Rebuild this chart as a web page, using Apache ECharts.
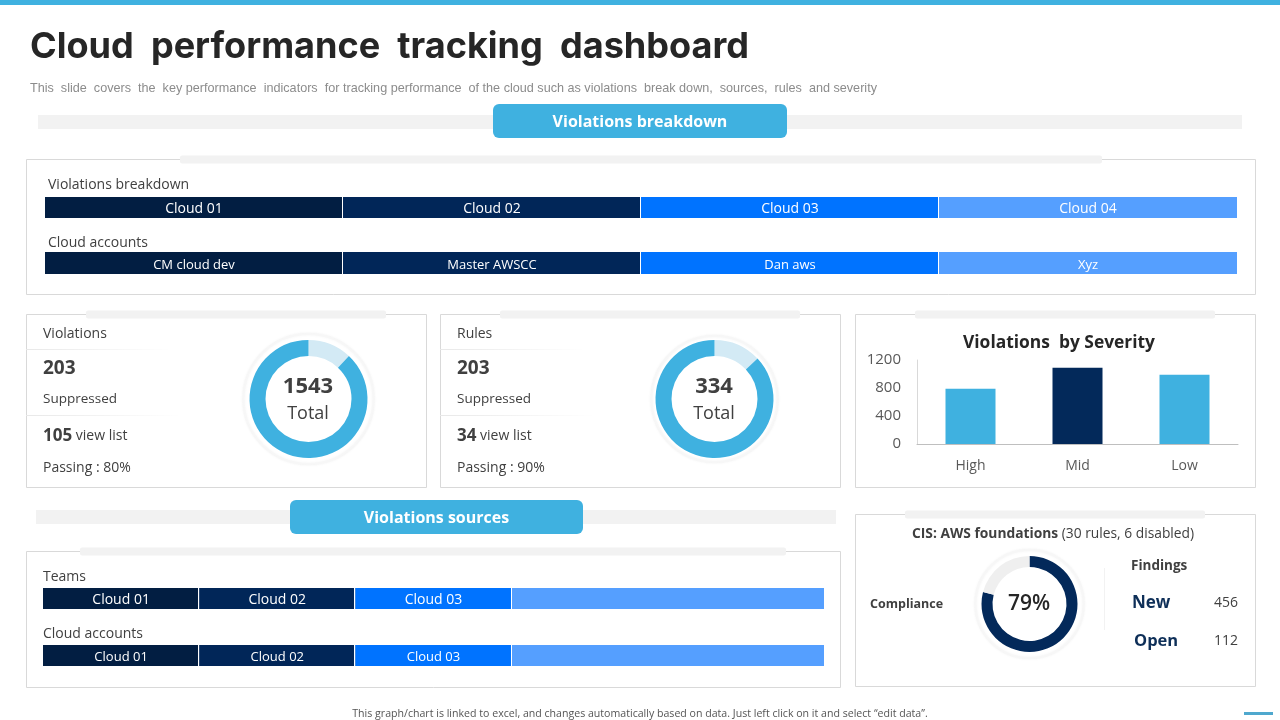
<!DOCTYPE html>
<html>
<head>
<meta charset="utf-8">
<title>Cloud performance tracking dashboard</title>
<script src="https://cdn.jsdelivr.net/npm/echarts@6/dist/echarts.min.js"></script>
<style>
  html, body { margin: 0; padding: 0; background: #fff; }
  #chart { width: 1280px; height: 720px; }
</style>
</head>
<body>
<div id="chart"></div>
<script>
// segment bars
const breakdownNames = ['Cloud 01', 'Cloud 02', 'Cloud 03', 'Cloud 04'];
const breakdownValues = [1, 1, 1, 1];
const accountNames = ['CM cloud dev', 'Master AWSCC', 'Dan aws', 'Xyz'];
const accountValues = [1, 1, 1, 1];
const teamNames = ['Cloud 01', 'Cloud 02', 'Cloud 03', ''];
const teamValues = [1, 1, 1, 2];
const sourceAccountNames = ['Cloud 01', 'Cloud 02', 'Cloud 03', ''];
const sourceAccountValues = [1, 1, 1, 2];

// donuts (share of the ring)
const violationsRing = [12, 88];
const rulesRing = [13, 87];
const complianceRing = [79, 21];

// severity bars
const severityNames = ['High', 'Mid', 'Low'];
const severityValues = [790, 1090, 990];
const severityTicks = { min: 0, max: 1200, interval: 400 };

const FONT = '"Open Sans"';
const SKY = '#3FB1E0';
const NAVY = '#03295A';
const STRIP = '#F2F2F2';
const FRAME = '#D9D9D9';
const segColors = ['#021E42', '#012658', '#0073FF', '#559FFF'];

const chart = echarts.init(document.getElementById('chart'), null, { renderer: 'canvas' });

const grids = [];
const xAxes = [];
const yAxes = [];
const series = [];
const graphics = [];

function addSegmentRow(names, values, left, top, width, height, fontSize, labelShift) {
    const idx = grids.length;
    grids.push({ left: left, top: top, width: width, height: height });
    xAxes.push({ gridIndex: idx, type: 'value', min: 0, max: values.reduce((a, b) => a + b, 0), show: false });
    yAxes.push({ gridIndex: idx, type: 'category', data: ['row'], show: false });
    values.forEach(function (v, i) {
        series.push({
            type: 'bar',
            stack: 'row' + idx,
            xAxisIndex: idx,
            yAxisIndex: idx,
            barWidth: '100%',
            silent: true,
            data: [v],
            itemStyle: { color: segColors[i], borderColor: '#fff', borderWidth: 0 },
            label: {
                show: names[i] !== '',
                position: 'inside',
                offset: [0, labelShift],
                formatter: names[i],
                color: '#fff',
                fontFamily: FONT,
                fontSize: fontSize
            }
        });
    });
}

function addDonut(data, cx, cy, inner, outer, colors) {
    series.push({
        type: 'pie',
        center: [cx, cy],
        radius: [inner, outer],
        startAngle: 90,
        clockwise: true,
        silent: true,
        label: { show: false },
        labelLine: { show: false },
        data: data.map(function (v, i) {
            return { value: v, itemStyle: { color: colors[i] } };
        })
    });
}

function text(x, y, str, size, opts) {
    opts = opts || {};
    graphics.push({
        type: 'text',
        x: x,
        y: y + 1,
        z: 20,
        silent: true,
        style: {
            text: str,
            fill: opts.color || '#404040',
            font: (opts.weight || 'normal') + ' ' + size + 'px ' + (opts.family || FONT),
            align: opts.align || 'left',
            verticalAlign: 'middle',
            rich: opts.rich
        }
    });
}

function rect(x, y, w, h, fill, r) {
    graphics.push({
        type: 'rect',
        z: 1,
        silent: true,
        shape: { x: x, y: y, width: w, height: h, r: r || 0 },
        style: { fill: fill }
    });
}

function frame(x, y, w, h, stripX, stripW) {
    graphics.push({
        type: 'rect',
        z: 1,
        silent: true,
        shape: { x: x, y: y, width: w, height: h },
        style: { fill: 'transparent', stroke: FRAME, lineWidth: 1 }
    });
    rect(stripX, y - 4, stripW, 8, STRIP, 2);
}

function header(stripX, stripW, stripY, pillX, pillW, pillY, label) {
    rect(stripX, stripY, stripW, 14, STRIP);
    rect(pillX, pillY, pillW, 34, SKY, 6);
    text(pillX + pillW / 2, pillY + 17, label, 16, { color: '#fff', weight: 'bold', align: 'center' });
}

function fadeLine(x, y, w) {
    graphics.push({
        type: 'rect',
        z: 2,
        silent: true,
        shape: { x: x, y: y, width: w, height: 1 },
        style: {
            fill: new echarts.graphic.LinearGradient(0, 0, 1, 0, [
                { offset: 0, color: '#E8E8E8' },
                { offset: 1, color: '#FFFFFF' }
            ])
        }
    });
}

function halo(cx, cy, r) {
    graphics.push({
        type: 'circle',
        z: 1,
        silent: true,
        shape: { cx: cx, cy: cy, r: r },
        style: { fill: '#fff', stroke: '#F7F7F7', lineWidth: 2, shadowBlur: 3, shadowColor: 'rgba(0,0,0,0.05)' }
    });
}

function statCard(x, title, main, passed, passing) {
    text(x + 17, 333, title, 14);
    fadeLine(x, 349, 145);
    text(x + 17, 368, main, 19, { weight: 'bold' });
    text(x + 17, 398, 'Suppressed', 13.5);
    fadeLine(x, 415, 155);
    text(x + 17, 435, '{b|' + passed + '} view list', 14, {
        rich: { b: { font: 'bold 17px ' + FONT, fill: '#404040' } }
    });
    text(x + 17, 467, 'Passing : ' + passing, 14);
}

// page chrome
rect(0, 0, 1280, 5, SKY);
text(30, 46, 'Cloud  performance  tracking  dashboard', 36.1, { color: '#262626', weight: 'bold', family: 'Inter' });
text(30, 88, 'This  slide  covers  the  key performance  indicators  for tracking performance  of the cloud such as violations  break down,  sources,  rules  and severity', 12.63, { color: '#8C8C8C', family: '"Liberation Sans"' });
header(38, 1204, 115, 493, 294, 104, 'Violations breakdown');
header(36, 800, 510, 290, 293, 500, 'Violations sources');

// panels
frame(26.5, 159.5, 1229, 135, 180, 922);
frame(26.5, 314.5, 400, 173, 86, 300);
frame(440.5, 314.5, 400, 173, 500, 300);
frame(855.5, 314.5, 400, 173, 915, 300);
frame(855.5, 514.5, 400, 172, 905, 300);
frame(26.5, 551.5, 814, 136, 80, 706);

// segment rows
text(48, 184, 'Violations breakdown', 14);
text(48, 242, 'Cloud accounts', 14);
addSegmentRow(breakdownNames, breakdownValues, 45, 197, 1192, 21, 14, 1.5);
addSegmentRow(accountNames, accountValues, 45, 252, 1192, 22, 13, 2.5);
text(43, 576, 'Teams', 14);
text(43, 633, 'Cloud accounts', 14);
addSegmentRow(teamNames, teamValues, 43, 588, 781, 21, 14, 1.5);
addSegmentRow(sourceAccountNames, sourceAccountValues, 43, 645, 781, 21, 13, 1.5);

// white seams between the segments
[342.5, 640.5, 938.5].forEach(function (x) {
    graphics.push({ type: 'line', z: 60, zlevel: 1, silent: true, shape: { x1: x, y1: 197, x2: x, y2: 274 }, style: { stroke: '#fff', lineWidth: 1 } });
});
[198.5, 354.5, 511.5].forEach(function (x) {
    graphics.push({ type: 'line', z: 60, zlevel: 1, silent: true, shape: { x1: x, y1: 588, x2: x, y2: 666 }, style: { stroke: '#fff', lineWidth: 1 } });
});

// stat cards
statCard(26, 'Violations', '203', '105', '80%');
statCard(440, 'Rules', '203', '34', '90%');

halo(308.5, 399, 65);
addDonut(violationsRing, 308.5, 399, 43, 59, ['#D3EAF5', SKY]);
text(308, 386, '1543', 22, { weight: 'bold', align: 'center' });
text(308, 413, 'Total', 18, { align: 'center' });

halo(714.5, 399, 63);
addDonut(rulesRing, 714.5, 399, 43, 59, ['#D3EAF5', SKY]);
text(714, 386, '334', 22, { weight: 'bold', align: 'center' });
text(714, 413, 'Total', 18, { align: 'center' });

// severity chart
text(1059, 342, 'Violations  by Severity', 17.4, { color: '#262626', weight: 'bold', align: 'center' });
const sevIdx = grids.length;
grids.push({ left: 917, top: 360, width: 321, height: 84 });
xAxes.push({
    gridIndex: sevIdx,
    type: 'category',
    data: severityNames,
    axisTick: { show: false },
    axisLine: { lineStyle: { color: '#BFBFBF', width: 1 } },
    axisLabel: { color: '#595959', fontFamily: FONT, fontSize: 14, margin: 15 }
});
yAxes.push({
    gridIndex: sevIdx,
    type: 'value',
    min: severityTicks.min,
    max: severityTicks.max,
    interval: severityTicks.interval,
    axisLine: { show: true, lineStyle: { color: '#D9D9D9', width: 1 } },
    axisTick: { show: false },
    splitLine: { show: false },
    axisLabel: {
        color: '#595959',
        fontFamily: FONT,
        fontSize: 15,
        margin: 16,
        padding: [2, 0, 0, 0],
        formatter: function (val) {
            return String(val);
        }
    }
});
series.push({
    type: 'bar',
    xAxisIndex: sevIdx,
    yAxisIndex: sevIdx,
    barWidth: 50,
    silent: true,
    data: severityValues.map(function (v, i) {
        return { value: v, itemStyle: { color: i === 1 ? NAVY : SKY } };
    })
});

// compliance card
text(1053, 533, '{b|CIS: AWS foundations} (30 rules, 6 disabled)', 13.8, {
    align: 'center',
    rich: { b: { font: 'bold 13.8px ' + FONT, fill: '#404040' } }
});
text(870, 603, 'Compliance', 12.5, { weight: 'bold' });
halo(1029.5, 604, 54);
addDonut(complianceRing, 1029.5, 604, 37, 48, [NAVY, '#EFEFEF']);
text(1029, 603, '79%', 21, { color: '#262626', weight: '600', align: 'center' });
rect(1104, 568, 1, 62, '#F2F2F2');
text(1131, 565, 'Findings', 13.5, { weight: 'bold' });
text(1132, 602, 'New', 17, { color: '#0E2F58', weight: 'bold' });
text(1134, 640, 'Open', 16.5, { color: '#0E2F58', weight: 'bold' });
text(1238, 602, '456', 14, { align: 'right' });
text(1238, 640, '112', 14, { align: 'right' });

// footer
text(640, 713, 'This graph/chart is linked to excel, and changes automatically based on data. Just left click on it and select \u201cedit data\u201d.', 10.6, { color: '#555555', align: 'center' });
rect(1244, 712, 29, 3, '#4FA8CE');

const option = {
    animation: false,
    backgroundColor: '#fff',
    grid: grids,
    xAxis: xAxes,
    yAxis: yAxes,
    series: series,
    graphic: { elements: graphics }
};
chart.setOption(option);
</script>
</body>
</html>
